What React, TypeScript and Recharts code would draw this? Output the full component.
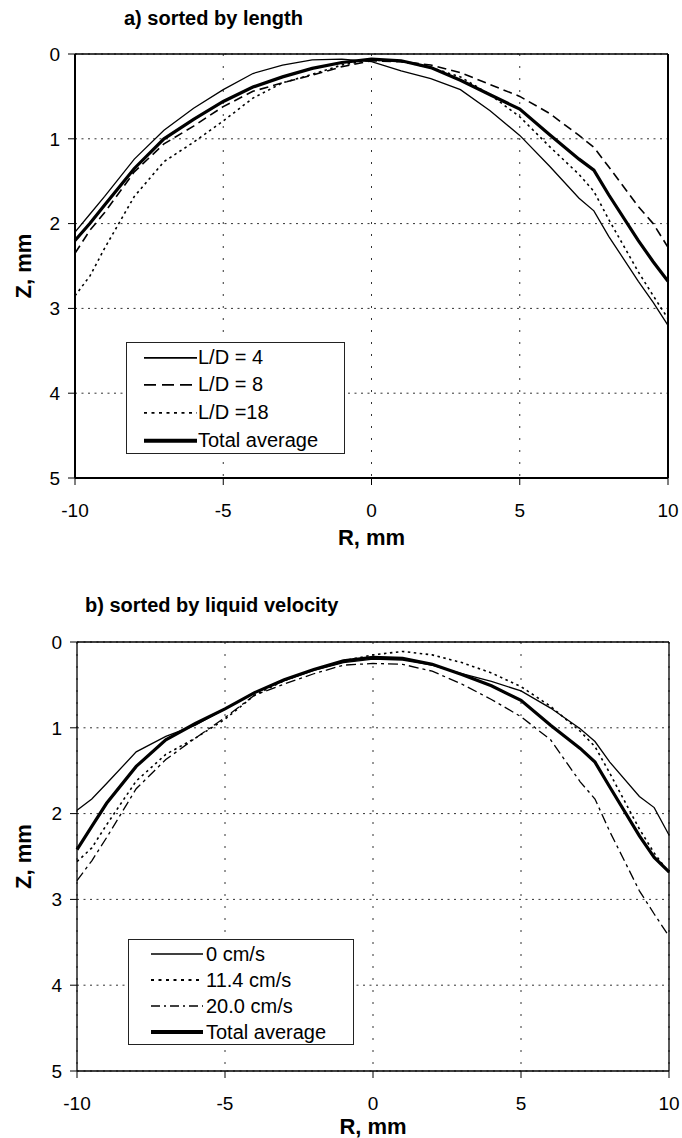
import { LineChart, Line, XAxis, YAxis, CartesianGrid, ReferenceLine, Legend } from 'recharts';

const FONT = '"Liberation Sans", Arial, sans-serif';

const rValues = [-10, -9.5, -9, -8, -7, -6, -5, -4, -3, -2, -1, 0, 1, 2, 3, 4, 5, 6, 7, 7.5, 8, 9, 9.5, 10];
const xTicks = [-10, -5, 0, 5, 10];
const zTicks = [0, 1, 2, 3, 4, 5];

// a) sorted by length
const ld4 = [2.1, 1.89, 1.68, 1.24, 0.9, 0.64, 0.42, 0.23, 0.13, 0.07, 0.06, 0.09, 0.2, 0.29, 0.42, 0.67, 0.96, 1.32, 1.7, 1.85, 2.15, 2.68, 2.93, 3.2];
const ld8 = [2.35, 2.08, 1.87, 1.39, 1.06, 0.85, 0.62, 0.44, 0.34, 0.25, 0.15, 0.08, 0.09, 0.13, 0.22, 0.36, 0.5, 0.7, 0.96, 1.1, 1.33, 1.8, 2.0, 2.28];
const ld18 = [2.85, 2.62, 2.29, 1.68, 1.27, 1.04, 0.79, 0.52, 0.34, 0.24, 0.13, 0.07, 0.09, 0.16, 0.27, 0.48, 0.74, 1.09, 1.42, 1.62, 1.95, 2.57, 2.85, 3.12];
const avgLength = [2.2, 2.0, 1.78, 1.35, 1.0, 0.77, 0.56, 0.39, 0.27, 0.17, 0.1, 0.06, 0.08, 0.16, 0.31, 0.48, 0.65, 0.95, 1.24, 1.37, 1.66, 2.2, 2.45, 2.68];

// b) sorted by liquid velocity
const v0 = [1.96, 1.83, 1.65, 1.28, 1.1, 0.97, 0.78, 0.59, 0.45, 0.33, 0.24, 0.2, 0.21, 0.27, 0.37, 0.46, 0.57, 0.77, 1.01, 1.16, 1.4, 1.8, 1.93, 2.25];
const v114 = [2.56, 2.4, 2.13, 1.62, 1.31, 1.12, 0.9, 0.62, 0.45, 0.32, 0.22, 0.15, 0.11, 0.15, 0.24, 0.36, 0.52, 0.75, 1.04, 1.22, 1.53, 2.18, 2.46, 2.69];
const v200 = [2.78, 2.55, 2.28, 1.71, 1.37, 1.12, 0.88, 0.62, 0.49, 0.37, 0.27, 0.25, 0.26, 0.34, 0.49, 0.67, 0.87, 1.14, 1.63, 1.83, 2.21, 2.9, 3.17, 3.43];
const avgVelocity = [2.42, 2.15, 1.88, 1.45, 1.14, 0.95, 0.78, 0.59, 0.44, 0.32, 0.22, 0.18, 0.19, 0.26, 0.38, 0.51, 0.68, 0.97, 1.24, 1.4, 1.69, 2.26, 2.51, 2.68];

type Series = { key: string; name: string; values: number[]; width: number; dash?: string; legendDash?: string };

const lengthSeries: Series[] = [
  { key: 'ld4', name: 'L/D = 4', values: ld4, width: 1.3 },
  { key: 'ld8', name: 'L/D = 8', values: ld8, width: 1.6, dash: '9 5', legendDash: '12 6' },
  { key: 'ld18', name: 'L/D =18', values: ld18, width: 1.6, dash: '2.5 3.5', legendDash: '3 4.5' },
  { key: 'avg', name: 'Total average', values: avgLength, width: 3.2 },
];

const velocitySeries: Series[] = [
  { key: 'v0', name: '0 cm/s', values: v0, width: 1.3 },
  { key: 'v114', name: '11.4 cm/s', values: v114, width: 1.6, dash: '2.5 3.5', legendDash: '3 4.5' },
  { key: 'v200', name: '20.0 cm/s', values: v200, width: 1.3, dash: '10 4 3 4', legendDash: '9 4 2 4' },
  { key: 'avg', name: 'Total average', values: avgVelocity, width: 3.2 },
];

type PanelCfg = {
  title: string;
  titleX: number;
  titleTop: number;
  top: number;
  height: number;
  margin: { top: number; right: number; bottom: number; left: number };
  yAxisWidth: number;
  xAxisHeight: number;
  xTitleDy: number;
  axisW: number;
  series: Series[];
  legend: { left: number; top: number; width: number; height: number; rowH: number; x1: number; x2: number; textX: number };
};

function LegendBox({ cfg }: { cfg: PanelCfg }) {
  const lg = cfg.legend;
  const pad = (lg.height - 4 * lg.rowH) / 2;
  return (
    <div style={{ boxSizing: 'border-box', width: lg.width, height: lg.height, border: '1px solid #222', background: '#fff', paddingTop: pad, position: 'relative' }}>
      {cfg.series.map((s) => (
        <div key={s.key} style={{ position: 'relative', height: lg.rowH }}>
          <svg width={lg.x2 + 2} height={lg.rowH} style={{ position: 'absolute', left: 0, top: 0 }}>
            <line x1={lg.x1} x2={lg.x2} y1={lg.rowH / 2} y2={lg.rowH / 2} stroke="#000" strokeWidth={s.width > 2 ? 4 : s.width + 0.3} strokeDasharray={s.legendDash} />
          </svg>
          <span style={{ position: 'absolute', left: lg.textX, top: 0, lineHeight: `${lg.rowH}px`, fontSize: 20, fontFamily: FONT, color: '#000', whiteSpace: 'nowrap' }}>{s.name}</span>
        </div>
      ))}
    </div>
  );
}

function Panel({ cfg }: { cfg: PanelCfg }) {
  const data = rValues.map((r, i) => {
    const row: Record<string, number> = { r };
    cfg.series.forEach((s) => (row[s.key] = s.values[i]));
    return row;
  });
  const tickStyle = { fill: '#000', fontSize: 19, fontFamily: FONT };
  return (
    <div style={{ position: 'absolute', left: 0, top: cfg.top, width: 682, height: cfg.height }}>
      <div style={{ position: 'absolute', left: cfg.titleX, top: cfg.titleTop, fontFamily: FONT, fontWeight: 'bold', fontSize: 20, lineHeight: '20px', whiteSpace: 'nowrap' }}>
        {cfg.title}
      </div>
      <LineChart width={682} height={cfg.height} data={data} margin={cfg.margin}>
        <CartesianGrid horizontal={true} vertical={false} stroke="#333" strokeDasharray="2 4.5" />
        <CartesianGrid horizontal={false} vertical={true} stroke="#333" strokeDasharray="2 10" />
        <XAxis
          dataKey="r"
          type="number"
          domain={[-10, 10]}
          ticks={xTicks}
          interval={0}
          height={cfg.xAxisHeight}
          tickSize={7}
          tickMargin={19}
          axisLine={{ stroke: '#000', strokeWidth: cfg.axisW }}
          tickLine={{ stroke: '#000' }}
          tick={tickStyle}
          label={{
            content: (p: any) => (
              <text x={p.viewBox.x + p.viewBox.width / 2} y={p.viewBox.y + cfg.xTitleDy} textAnchor="middle" fontFamily={FONT} fontWeight="bold" fontSize={22} fill="#000">
                R, mm
              </text>
            ),
          }}
        />
        <YAxis
          type="number"
          domain={[0, 5]}
          reversed
          ticks={zTicks}
          interval={0}
          width={cfg.yAxisWidth}
          tickSize={7}
          tickMargin={8}
          axisLine={{ stroke: '#000', strokeWidth: cfg.axisW }}
          tickLine={{ stroke: '#000' }}
          tick={tickStyle}
          label={{
            content: (p: any) => {
              const cy = p.viewBox.y + p.viewBox.height / 2;
              return (
                <text x={23} y={cy} transform={`rotate(-90, 23, ${cy})`} textAnchor="middle" dominantBaseline="central" fontFamily={FONT} fontWeight="bold" fontSize={22} fill="#000">
                  Z, mm
                </text>
              );
            },
          }}
        />
        <ReferenceLine y={0} stroke="#000" strokeWidth={1.5} />
        <ReferenceLine x={10} stroke="#000" strokeWidth={cfg.axisW} />
        {cfg.series.map((s) => (
          <Line
            key={s.key}
            dataKey={s.key}
            name={s.name}
            type="linear"
            stroke="#000"
            strokeWidth={s.width}
            strokeDasharray={s.dash}
            dot={false}
            activeDot={false}
            isAnimationActive={false}
          />
        ))}
        <Legend
          layout="vertical"
          align="center"
          verticalAlign="middle"
          wrapperStyle={{ left: cfg.legend.left, top: cfg.legend.top, width: cfg.legend.width, height: cfg.legend.height }}
          content={() => <LegendBox cfg={cfg} />}
        />
      </LineChart>
    </div>
  );
}

const topPanel: PanelCfg = {
  title: 'a) sorted by length',
  titleX: 124,
  titleTop: 8,
  top: 0,
  height: 560,
  margin: { top: 54, right: 14, bottom: 12, left: 0 },
  yAxisWidth: 75,
  xAxisHeight: 70,
  xTitleDy: 67,
  axisW: 2,
  series: lengthSeries,
  legend: { left: 126, top: 342, width: 219, height: 112, rowH: 27.7, x1: 17, x2: 70, textX: 71 },
};

const bottomPanel: PanelCfg = {
  title: 'b) sorted by liquid velocity',
  titleX: 85,
  titleTop: 35,
  top: 560,
  height: 578,
  margin: { top: 82, right: 13, bottom: 1, left: 0 },
  yAxisWidth: 77,
  xAxisHeight: 66,
  xTitleDy: 63,
  axisW: 1.3,
  series: velocitySeries,
  legend: { left: 128, top: 379, width: 226, height: 106, rowH: 26, x1: 22, x2: 74, textX: 77 },
};

export default function App() {
  return (
    <div style={{ position: 'absolute', left: 0, top: 0, width: 682, height: 1138, background: '#fff' }}>
      <Panel cfg={topPanel} />
      <Panel cfg={bottomPanel} />
    </div>
  );
}
